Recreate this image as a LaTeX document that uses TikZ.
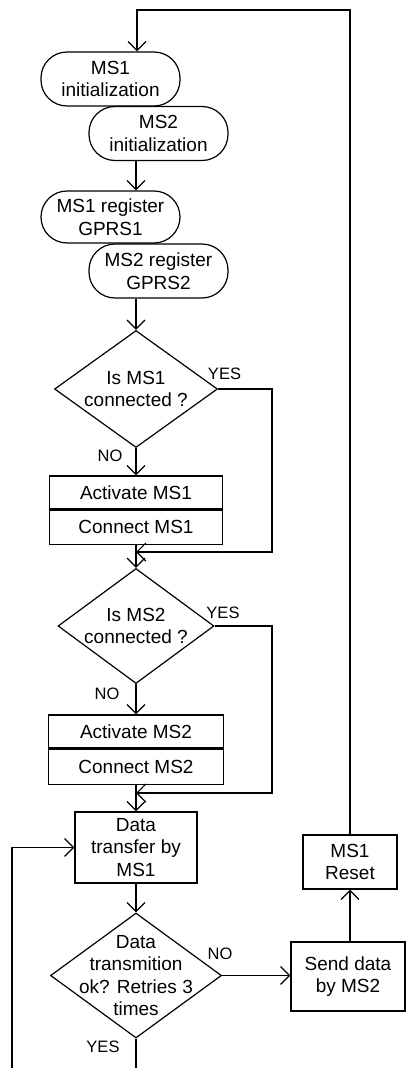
\documentclass[tikz,border=0pt]{standalone}
\usepackage{fontspec}
\setmainfont{Liberation Sans}
\usetikzlibrary{arrows.meta,shapes.geometric}
\begin{document}
\begin{tikzpicture}[x=1pt,y=-1pt,
  line width=1.2pt,
  every node/.style={font=\fontsize{19}{22.5}\selectfont, align=center, inner sep=0pt},
  stadium/.style={draw, rectangle, rounded corners=26pt, minimum width=139pt, minimum height=54pt},
  box/.style={draw, rectangle},
  dia/.style={draw, diamond},
  lbl/.style={font=\fontsize{16.5}{19}\selectfont},
  arr/.style={-{Straight Barb[length=9pt,width=18pt]}, line join=miter}
]
\useasboundingbox (0,0) rectangle (408,1068);

% nodes
\node[stadium] (init1) at (110.5,79) {MS1\\initialization};
\node[stadium] (init2) at (158.5,133.5) {MS2\\initialization};
\node[stadium, minimum height=52pt] (reg1) at (110.5,217) {MS1 register\\GPRS1};
\node[stadium] (reg2) at (158.5,271) {MS2 register\\GPRS2};

\node[dia, minimum width=163pt, minimum height=117pt] (d1) at (136,389) {};
\node (d1t) at (d1) {Is MS1\\connected ?};
\node[box, minimum width=173pt, minimum height=33pt] (act1) at (136,492.5) {Activate MS1};
\node[box, minimum width=173pt, minimum height=34pt, anchor=north] (con1) at (act1.south) {Connect MS1};

\node[dia, minimum width=156pt, minimum height=115pt] (d2) at (136,626) {};
\node (d2t) at (d2) {Is MS2\\connected ?};
\node[box, minimum width=175pt, minimum height=33pt] (act2) at (136,731.5) {Activate MS2};
\node[box, minimum width=175pt, minimum height=35pt, anchor=north] (con2) at (act2.south) {Connect MS2};

\node[box, minimum width=122pt, minimum height=71pt] (dt) at (136,847.5) {Data\\transfer by\\MS1};
\node[dia, minimum width=171pt, minimum height=125pt] (d3) at (136,975.5) {};
\node (d3t) at (d3) {Data\\transmition\\ok? Retries 3\\times};

\node[box, minimum width=114pt, minimum height=69pt] (send) at (348,976.5) {Send data\\by MS2};
\node[box, minimum width=94pt, minimum height=54pt] (reset) at (350,862) {MS1\\Reset};

% coordinates
\coordinate (lt) at (137,10);
\coordinate (rt) at (350,10);
\coordinate (m1) at (136,552);
\coordinate (m2) at (136,793);
\coordinate (lb) at (12,1068);
\coordinate (bot) at (136,1068);
\coordinate (r1) at (272,389);
\coordinate (r2) at (272,626);

% connectors
\draw[arr] (reset.north) -- (rt) -- (lt) -- (lt |- init1.north);
\draw[arr] (init2.south -| d1) -- (reg1.north -| d1);
\draw[arr] (reg2.south -| d1) -- (d1.north);
\draw[arr] (d1.south) -- (act1.north);
\draw[arr] (d1.east) -- (r1) |- (m1);
\draw[arr] (con1.south) -- (d2.north);
\draw[arr] (d2.south) -- (act2.north);
\draw[arr] (d2.east) -- (r2) |- (m2);
\draw[arr] (con2.south) -- (dt.north);
\draw[arr] (dt.south) -- (d3.north);
\draw[arr] (d3.east) -- (send.west |- d3.east);
\draw[arr] (send.north -| reset) -- (reset.south);
\draw[arr] (lb) |- (dt.west);
\draw (d3.south) -- (bot);

% labels
\node[lbl] (y1) at (224.5,374) {YES};
\node[lbl] (n1) at (110,456) {NO};
\node[lbl] (y2) at (223,613) {YES};
\node[lbl] (n2) at (107,694) {NO};
\node[lbl] (n3) at (220,954) {NO};
\node[lbl] (y3) at (103,1047) {YES};
\end{tikzpicture}
\end{document}
